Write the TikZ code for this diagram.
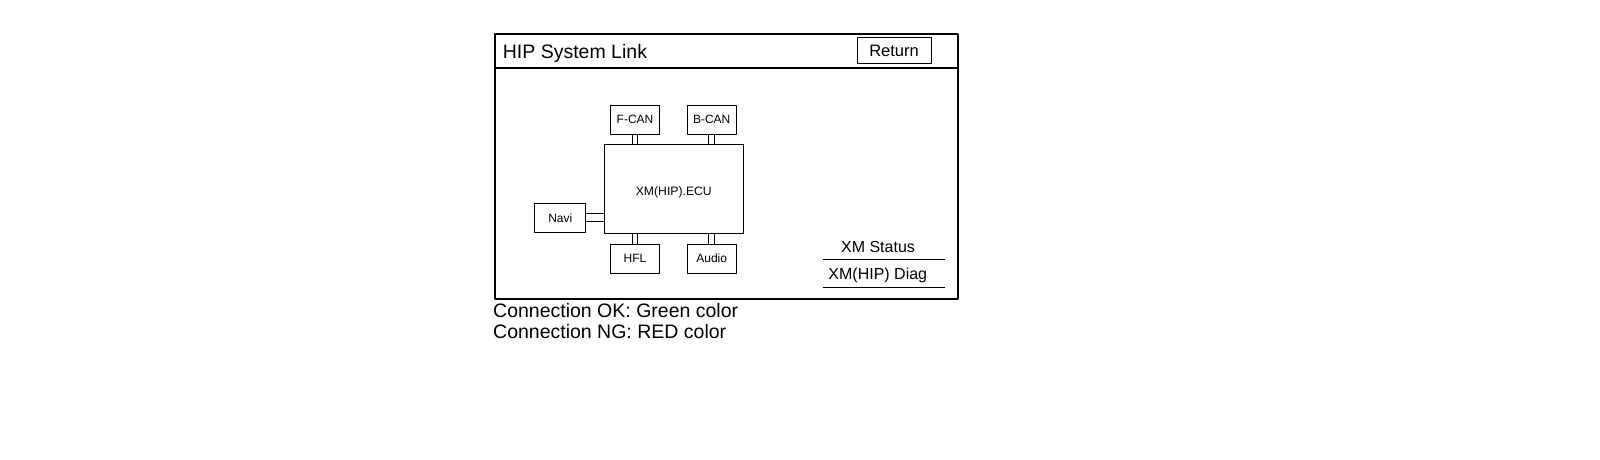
\documentclass[tikz,border=0pt]{standalone}
\usepackage{fontspec}
\setmainfont{Liberation Sans}
\begin{document}
\begin{tikzpicture}[x=1pt,y=-1pt,line join=round,
	unit/.style={draw,line width=1pt,minimum width=49pt,minimum height=29pt,inner sep=0pt,font=\fontsize{12}{14}\selectfont},
	link/.style={draw,line width=1pt,double,double distance=4.6pt},
	menu/.style={anchor=base,inner sep=0pt,font=\fontsize{16}{18}\selectfont},
	note/.style={anchor=base west,inner sep=0pt,font=\fontsize{19.5}{22}\selectfont}]
	\useasboundingbox (0,0) rectangle (1600,460);
	% Khung màn hình
	\draw[line width=2pt] (495,34) rectangle (958,298.5);
	\draw[line width=1.2pt] (495,68) -- (958,68);
	\node[anchor=base west,inner sep=0pt,font=\fontsize{19.5}{22}\selectfont] (title) at (502.7,58.3) {HIP System Link};
	\node[draw,line width=1pt,minimum width=74pt,minimum height=26pt,inner sep=0pt,font=\fontsize{16.5}{18}\selectfont] (ret) at (894,50.7) {Return};
	% Khối ECU
	\node[draw,line width=1pt,minimum width=139pt,minimum height=89pt,inner sep=0pt] (ecu) at (673.8,188.7) {};
	\node[font=\fontsize{12.2}{14}\selectfont,inner sep=0pt] (ecutext) at ([yshift=-4pt]ecu.center) {XM(HIP).ECU};
	\node[unit] (fcan) at (635,119.5) {F-CAN};
	\node[unit] (bcan) at (711.7,119.5) {B-CAN};
	\node[unit] (hfl) at (635,258.7) {HFL};
	\node[unit] (audio) at (711.7,258.7) {Audio};
	\node[unit,minimum width=50.7pt] (navi) at (560.3,217.8) {Navi};
	\draw[link] (fcan.south) -- (fcan.south |- ecu.north);
	\draw[link] (bcan.south) -- (bcan.south |- ecu.north);
	\draw[link] (hfl.north) -- (hfl.north |- ecu.south);
	\draw[link] (audio.north) -- (audio.north |- ecu.south);
	\draw[link,double distance=6.7pt] (navi.east) -- (navi.east -| ecu.west);
	% Menu
	\node[menu] (status) at (878,252.3) {XM Status};
	\node[menu] (diag) at (877.8,279.3) {XM(HIP) Diag};
	\draw[line width=1pt] (822.7,259.3) -- (945,259.3);
	\draw[line width=1pt] (822.7,287.3) -- (945,287.3);
	% Ghi chú
	\node[note] (ok) at (493,317) {Connection OK: Green color};
	\node[note] (ng) at (493,338.5) {Connection NG: RED color};
\end{tikzpicture}
\end{document}
